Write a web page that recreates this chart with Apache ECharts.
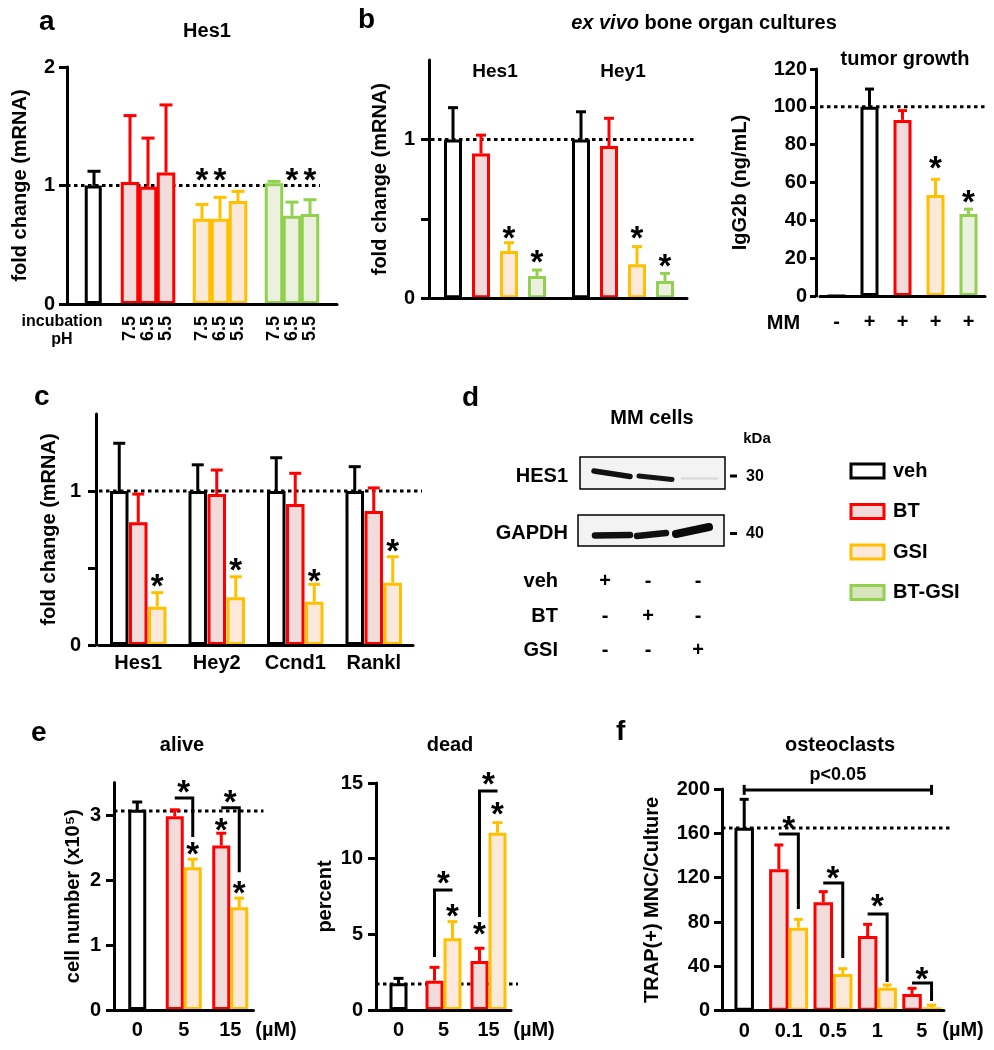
<!DOCTYPE html>
<html><head><meta charset="utf-8">
<script src="https://cdn.jsdelivr.net/npm/echarts@6/dist/echarts.min.js"></script>
<style>html,body{margin:0;padding:0;background:#fff}#c{width:994px;height:1050px}</style>
</head><body><div id="c"></div>
<script>
// ================= DATA =================
// a: Hes1 mRNA at different incubation pH
const aPH = ['7.5', '6.5', '5.5'];
const aVeh = [1.00], aVehErr = [1.12];
const aBT = [1.03, 0.99, 1.11], aBTErr = [1.59, 1.40, 1.68];
const aGSI = [0.72, 0.72, 0.87], aGSIErr = [0.84, 0.90, 0.95];
const aBTGSI = [1.02, 0.745, 0.76], aBTGSIErr = [1.035, 0.86, 0.88];
const aStarLevel = 1.09;
const aStarOn = {'GSI': ['7.5', '6.5'], 'BT-GSI': ['6.5', '5.5']};
const aRef = 1;

// b: ex vivo bone organ cultures
const bGenes = ['Hes1', 'Hey1'];
const bVeh = [1.00, 1.00], bVehErr = [1.20, 1.174];
const bBT = [0.912, 0.958], bBTErr = [1.027, 1.133];
const bGSI = [0.297, 0.214], bGSIErr = [0.35, 0.325];
const bBTGSI = [0.14, 0.109], bBTGSIErr = [0.178, 0.157];
const bStarGSI = [0.413, 0.413], bStarBTGSI = [0.266, 0.241];
const bRef = 1;

// b: tumor growth
const tCats = ['noMM', 'veh', 'BT', 'GSI', 'BT-GSI'];
const tMM = ['-', '+', '+', '+', '+'];
const tGroup = ['veh', 'veh', 'BT', 'GSI', 'BT-GSI'];
const tMean = [0, 100, 93.1, 53.4, 43.4];
const tErr = [null, 109.4, 98.0, 61.7, 45.9];
const tStars = [null, null, null, 70.4, 52.4];
const tRef = 100;

// c: MM cells mRNA
const cGenes = ['Hes1', 'Hey2', 'Ccnd1', 'Rankl'];
const cVeh = [1, 1, 1, 1], cVehErr = [1.31, 1.17, 1.216, 1.158];
const cBT = [0.797, 0.98, 0.916, 0.87], cBTErr = [0.98, 1.136, 1.115, 1.02];
const cGSI = [0.249, 0.31, 0.281, 0.405], cGSIErr = [0.34, 0.443, 0.394, 0.573];
const cStarGSI = [0.422, 0.526, 0.455, 0.649];
const cRef = 1;

// d: western blot
const blotProteins = ['HES1', 'GAPDH'];
const blotKDa = ['30', '40'];
const blotRowNames = ['veh', 'BT', 'GSI'];
const blotRows = [['+', '-', '-'], ['-', '+', '-'], ['-', '-', '+']];

// e: alive / dead
const eDose = ['0', '5', '15'];
const aliveVeh = [3.08, '-', '-'], aliveVehErr = [3.20, null, null];
const aliveBT = ['-', 2.98, 2.53], aliveBTErr = [null, 3.08, 2.72];
const aliveGSI = ['-', 2.195, 1.58], aliveGSIErr = [null, 2.32, 1.72];
const aliveRef = 3.06;
const aliveBrackets = [[1, -0.5, 0.5, 3.26, 3.26, 2.66], [2, -0.5, 0.5, 3.11, 3.11, 2.12]];
const aliveStars = [[1, 0, 3.435], [1, 0.5, 2.49], [2, 0, 3.29], [2, -0.5, 2.86], [2, 0.5, 1.88]];

const deadVeh = [1.76, '-', '-'], deadVehErr = [2.09, null, null];
const deadBT = ['-', 1.94, 3.24], deadBTErr = [null, 2.82, 4.08];
const deadGSI = ['-', 4.74, 11.72], deadGSIErr = [null, 5.84, 12.38];
const deadRef = 1.72;
const deadBrackets = [[1, -0.5, 0.5, 7.93, 3.5, 7.93], [2, -0.5, 0.5, 14.47, 6.15, 14.47]];
const deadStars = [[1, 0, 8.79], [1, 0.5, 6.61], [2, 0, 15.33], [2, 0.5, 13.35], [2, -0.5, 5.42]];

// f: osteoclasts
const fDose = ['0', '0.1', '0.5', '1', '5'];
const fVeh = [165, '-', '-', '-', '-'], fVehErr = [190.7, null, null, null, null];
const fBT = ['-', 127.6, 97.8, 67.4, 15.0], fBTErr = [null, 149.5, 107.4, 77.9, 20.2];
const fGSI = ['-', 74.9, 33.1, 20.8, 3.0], fGSIErr = [null, 82.4, 37.9, 23.2, 5.0];
const fRef = 164.8;
const fBrackets = [[1, -0.5, 0.5, 159.5, 159.5, 91.8], [2, -0.5, 0.5, 115.3, 115.3, 47.5], [3, -0.5, 0.5, 87.2, 87.2, 25.9], [4, -0.5, 0.5, 25.0, 25.0, 8.8]];
const fStars = [[1, 0, 170.3], [2, 0, 125.1], [3, 0, 99.9], [4, 0, 34.0]];
const fPBracket = [[0, 0, 4, 0.5, 199.2]];
const fPLabel = 'p<0.05';

// ================= STYLE / HELPERS =================
const FONT = '"Liberation Sans", Arial, Helvetica, sans-serif';
const LW = 3;
const COL = {
  'veh': {stroke: '#000000', fill: '#ffffff'},
  'BT': {stroke: '#ff0000', fill: '#f2dcdb'},
  'GSI': {stroke: '#ffc000', fill: '#fde9d9'},
  'BT-GSI': {stroke: '#92d050', fill: '#ebf1de'}
};
const STAR_FS = 33, STAR_DY = 7.5;
const T = (s, extra) => Object.assign({fontFamily: FONT, fontWeight: 'bold', fontSize: s, color: '#000'}, extra || {});

const grids = [], xAxes = [], yAxes = [], series = [], graphics = [];

function addGrid(g) { grids.push(Object.assign({containLabel: false, outerBoundsMode: 'none'}, g)); return grids.length - 1; }

function addX(gi, o) {
  xAxes.push({
    gridIndex: gi, type: 'category', data: o.data, show: o.show !== false, position: o.position || 'bottom', z: 5,
    axisLine: {show: o.line !== false, onZero: false, lineStyle: {color: '#000', width: LW}},
    axisTick: {show: false},
    axisLabel: Object.assign({show: o.labels !== false, interval: 0, margin: o.margin || 10, rotate: o.rotate || 0,
      inside: !!o.inside, formatter: o.formatter || (v => v)}, T(o.fontSize || 20)),
    splitLine: {show: false}
  });
  return xAxes.length - 1;
}

function addY(gi, o) {
  const labels = o.labels;
  yAxes.push({
    gridIndex: gi, type: 'value', min: o.min, max: o.max, interval: o.interval, offset: o.offset || 0, z: 5,
    axisLine: {show: true, onZero: false, lineStyle: {color: '#000', width: LW}},
    axisTick: {show: true, inside: false, length: o.tickLen || 8, lineStyle: {color: '#000', width: LW}, customValues: o.ticks},
    axisLabel: Object.assign({show: true, margin: o.margin || 12, customValues: labels,
      formatter: v => labels.some(l => Math.abs(l - v) < 1e-9) ? String(v) : ''}, T(o.fontSize || 20)),
    splitLine: {show: false},
    name: o.name, nameLocation: 'middle', nameGap: o.nameGap, nameTextStyle: T(o.nameSize || 20)
  });
  return yAxes.length - 1;
}

function addBar(xi, yi, name, data, barWidth, barGap) {
  series.push({type: 'bar', name, xAxisIndex: xi, yAxisIndex: yi, data, barWidth, barGap, z: 2, silent: true,
    emphasis: {disabled: true},
    itemStyle: {color: COL[name].fill, borderColor: COL[name].stroke, borderWidth: LW}});
}

function addErr(xi, yi, name, pts, offset, cap) {
  const stroke = COL[name].stroke;
  series.push({type: 'custom', xAxisIndex: xi, yAxisIndex: yi, data: pts, z: 3, silent: true, clip: false,
    encode: {x: 0, y: [1, 2]},
    renderItem: (params, api) => {
      const a = api.coord([api.value(0), api.value(1)]);
      const b = api.coord([api.value(0), api.value(2)]);
      const x = a[0] + offset;
      return {type: 'group', children: [
        {type: 'line', shape: {x1: x, y1: a[1], x2: x, y2: b[1]}, style: {stroke, lineWidth: LW}},
        {type: 'line', shape: {x1: x - cap / 2, y1: b[1], x2: x + cap / 2, y2: b[1]}, style: {stroke, lineWidth: LW}}
      ]};
    }});
}

function addRef(xi, yi, value, ext) {
  series.push({type: 'custom', xAxisIndex: xi, yAxisIndex: yi, data: [[0, value]], z: 1, silent: true, clip: false,
    encode: {x: 0, y: 1},
    renderItem: (params, api) => {
      const cs = params.coordSys;
      const y = api.coord([0, api.value(1)])[1];
      return {type: 'line', shape: {x1: cs.x, y1: y, x2: cs.x + cs.width + ext, y2: y},
        style: {stroke: '#000', lineWidth: LW, lineDash: [3.5, 3.5]}};
    }});
}

function addStars(xi, yi, pts, step) {
  series.push({type: 'custom', xAxisIndex: xi, yAxisIndex: yi, data: pts, z: 4, silent: true, clip: false,
    encode: {x: 0, y: 2},
    renderItem: (params, api) => {
      const p = api.coord([api.value(0), api.value(2)]);
      return {type: 'text', style: {text: '*', x: p[0] + api.value(1) * step, y: p[1] + STAR_DY,
        align: 'center', verticalAlign: 'middle', fontSize: STAR_FS, fontWeight: 'bold', fontFamily: FONT, fill: '#000'}};
    }});
}

function addBrackets(xi, yi, pts, step) {
  series.push({type: 'custom', xAxisIndex: xi, yAxisIndex: yi, data: pts, z: 4, silent: true, clip: false,
    encode: {x: 0, y: 3},
    renderItem: (params, api) => {
      const c = api.value(0);
      const top = api.coord([c, api.value(3)]);
      const yl = api.coord([c, api.value(4)])[1], yr = api.coord([c, api.value(5)])[1];
      const xl = top[0] + api.value(1) * step, xr = top[0] + api.value(2) * step;
      return {type: 'polyline', shape: {points: [[xl, yl], [xl, top[1]], [xr, top[1]], [xr, yr]]},
        style: {stroke: '#000', lineWidth: LW, fill: null, lineJoin: 'miter'}};
    }});
}

function gText(text, x, y, size, align, extra) {
  graphics.push({type: 'text', x, y, silent: true, z: 10,
    style: Object.assign({text, fontFamily: FONT, fontWeight: 'bold', fontSize: size, fill: '#000',
      align: align || 'center', verticalAlign: 'middle'}, extra || {})});
}

// grouped panel builder: groups = [[name, values(aligned to cats), errs]]
// bar borders are drawn inside the bar, so barWidth is the outer width
function groupedPanel(xiMain, yi, groups, barWidth, gapPx, cap, xiVeh) {
  const inGroup = groups.filter(g => !(xiVeh !== undefined && g[0] === 'veh'));
  const n = inGroup.length, step = barWidth + gapPx;
  groups.forEach(([name, vals, errs]) => {
    const separate = xiVeh !== undefined && name === 'veh';
    const xi = separate ? xiVeh : xiMain;
    const slot = separate ? 0 : inGroup.findIndex(g => g[0] === name) - (n - 1) / 2;
    addBar(xi, yi, name, vals, barWidth, (gapPx / barWidth * 100) + '%');
    const pts = [];
    vals.forEach((v, i) => { if (v !== '-' && errs[i] != null) pts.push([i, v, errs[i]]); });
    addErr(xi, yi, name, pts, slot * step, cap);
  });
  return step;
}

// ================= PANEL a =================
const aCats = ['pad0', 'veh', 'gap1'].concat(aPH.map(p => 'BT ' + p), ['gap2'], aPH.map(p => 'GSI ' + p), ['gap3'],
  aPH.map(p => 'BT-GSI ' + p), ['pad4']);
const aGroupOf = c => c === 'veh' ? 'veh' : (c.indexOf(' ') > 0 ? c.slice(0, c.indexOf(' ')) : null);
const aPhOf = c => c.indexOf(' ') > 0 ? c.slice(c.indexOf(' ') + 1) : '';
const gA = addGrid({left: 67, top: 67, width: 270, height: 237});
const xA = addX(gA, {data: aCats, rotate: 90, fontSize: 18, margin: 12, formatter: v => aPhOf(v)});
const yA = addY(gA, {min: 0, max: 2, interval: 1, ticks: [0, 1, 2], labels: [0, 1, 2], name: 'fold change (mRNA)', nameGap: 37, margin: 12});
addRef(xA, yA, aRef, -17);
[['veh', aVeh, aVehErr], ['BT', aBT, aBTErr], ['GSI', aGSI, aGSIErr], ['BT-GSI', aBTGSI, aBTGSIErr]].forEach(([g, v, e]) => {
  const pick = (arr, c) => aGroupOf(c) !== g ? '-' : (g === 'veh' ? arr[0] : arr[aPH.indexOf(aPhOf(c))]);
  addBar(xA, yA, g, aCats.map(c => pick(v, c)), g === 'veh' ? 17 : 18.5, '-100%');
  const pts = [];
  aCats.forEach((c, i) => { if (aGroupOf(c) === g) pts.push([i, pick(v, c), pick(e, c)]); });
  addErr(xA, yA, g, pts, 0, 13);
});
const aStarPts = [];
Object.keys(aStarOn).forEach(g => aStarOn[g].forEach(p => aStarPts.push([aCats.indexOf(g + ' ' + p), 0, aStarLevel])));
addStars(xA, yA, aStarPts, 0);
gText('Hes1', 207, 31, 20);
gText('incubation', 62, 321.5, 16);
gText('pH', 62, 340, 16);

// ================= PANEL b (left) =================
const gB = addGrid({left: 431, top: 60, width: 256, height: 238.3});
const xB = addX(gB, {data: bGenes, labels: false});
addX(gB, {data: bGenes, position: 'top', line: false, inside: true, margin: 2, fontSize: 19});
const yB = addY(gB, {min: 0, max: 1.5, interval: 0.5, ticks: [0, 0.5, 1], labels: [0, 1], name: 'fold change (mRNA)', nameGap: 39, margin: 14, offset: 2});
addRef(xB, yB, bRef, 8);
const stepB = groupedPanel(xB, yB, [['veh', bVeh, bVehErr], ['BT', bBT, bBTErr], ['GSI', bGSI, bGSIErr], ['BT-GSI', bBTGSI, bBTGSIErr]], 18, 10, 10);
addStars(xB, yB, bStarGSI.map((v, i) => [i, 0.5, v]).concat(bStarBTGSI.map((v, i) => [i, 1.5, v])), stepB);
gText('{i|ex vivo} bone organ cultures', 704, 23, 20, 'center',
  {rich: {i: {fontStyle: 'italic', fontWeight: 'bold', fontSize: 20, fontFamily: FONT, fill: '#000'}}});

// ================= PANEL b (tumor growth) =================
const gT = addGrid({left: 820, top: 69, width: 165, height: 227});
const xT = addX(gT, {data: tCats, margin: 16, formatter: (v, i) => tMM[i]});
const yT = addY(gT, {min: 0, max: 120, interval: 20, ticks: [0, 20, 40, 60, 80, 100, 120], labels: [0, 20, 40, 60, 80, 100, 120],
  name: 'IgG2b (ng/mL)', nameGap: 66, margin: 9, offset: 4, tickLen: 6});
addRef(xT, yT, tRef, 0);
['veh', 'BT', 'GSI', 'BT-GSI'].forEach(g => {
  addBar(xT, yT, g, tGroup.map((gg, i) => gg === g ? tMean[i] : '-'), 18, '-100%');
  const pts = [];
  tGroup.forEach((gg, i) => { if (gg === g && tErr[i] != null) pts.push([i, tMean[i], tErr[i]]); });
  addErr(xT, yT, g, pts, 0, 9);
});
const tStarPts = [];
tStars.forEach((v, i) => { if (v != null) tStarPts.push([i, 0, v]); });
addStars(xT, yT, tStarPts, 0);
gText('tumor growth', 905, 59.5, 20);
gText('MM', 783.5, 323.5, 20);

// ================= PANEL c =================
const gC = addGrid({left: 99, top: 414, width: 314, height: 231});
const xC = addX(gC, {data: cGenes, margin: 8.5});
const yC = addY(gC, {min: 0, max: 1.5, interval: 0.5, ticks: [0, 0.5, 1], labels: [0, 1], name: 'fold change (mRNA)', nameGap: 37, margin: 15, offset: 3});
addRef(xC, yC, cRef, 9);
const stepC = groupedPanel(xC, yC, [['veh', cVeh, cVehErr], ['BT', cBT, cBTErr], ['GSI', cGSI, cGSIErr]], 18.5, 0.5, 12);
addStars(xC, yC, cStarGSI.map((v, i) => [i, 1, v]), stepC);

// ================= PANEL d (western blot, drawn) =================
gText('MM cells', 652, 418.5, 20);
gText('kDa', 757, 439, 15);
const blotBoxes = [{x: 580, y: 457, w: 145, h: 32}, {x: 578, y: 515, w: 146, h: 31}];
blotBoxes.forEach((b, i) => {
  graphics.push({type: 'rect', silent: true, shape: {x: b.x, y: b.y, width: b.w, height: b.h},
    style: {fill: '#f3f3f3', stroke: '#000', lineWidth: 1.5}});
  gText(blotProteins[i], 568, b.y + b.h / 2 + 3, 20, 'right');
  graphics.push({type: 'rect', silent: true, shape: {x: 730, y: b.y + b.h / 2 + 1.5, width: 7, height: 3}, style: {fill: '#000'}});
  gText(blotKDa[i], 746, b.y + b.h / 2 + 3.5, 16, 'left');
});
const bandShapes = [
  [594, 471, 630, 476.5, 5.5, '#111'], [639, 476, 672, 479.5, 5, '#151515'], [682, 478.5, 717, 478.5, 2.5, '#dcdcdc'],
  [595, 535.5, 630, 535, 6.5, '#111'], [637, 536, 666, 533, 6.5, '#111'], [676, 534, 709, 527, 8, '#0a0a0a']
];
bandShapes.forEach(s => graphics.push({type: 'line', silent: true, shape: {x1: s[0], y1: s[1], x2: s[2], y2: s[3]},
  style: {stroke: s[5], lineWidth: s[4], lineCap: 'round'}}));
const laneX = [605, 648, 698], rowY = [581, 616, 650];
blotRowNames.forEach((r, ri) => {
  gText(r, 558, rowY[ri], 20, 'right');
  blotRows[ri].forEach((s, li) => gText(s, laneX[li], rowY[ri], 20));
});

// ================= PANEL e (alive) =================
const gE1 = addGrid({left: 114, top: 782.5, width: 139.5, height: 227.5});
const xE1 = addX(gE1, {data: eDose, margin: 10.5});
const xE1v = addX(gE1, {data: eDose, show: false});
const yE1 = addY(gE1, {min: 0, max: 3.5, interval: 1, ticks: [0, 1, 2, 3], labels: [0, 1, 2, 3], name: 'cell number (x10\u2075)', nameGap: 31, margin: 13});
addRef(xE1, yE1, aliveRef, 10);
const stepE = groupedPanel(xE1, yE1, [['veh', aliveVeh, aliveVehErr], ['BT', aliveBT, aliveBTErr], ['GSI', aliveGSI, aliveGSIErr]], 18, 0, 10, xE1v);
addBrackets(xE1, yE1, aliveBrackets, stepE);
addStars(xE1, yE1, aliveStars, stepE);
gText('alive', 182, 745, 20);
gText('(\u00b5M)', 276, 1030.5, 20);

// ================= PANEL e (dead) =================
const gE2 = addGrid({left: 376, top: 783, width: 135, height: 227});
const xE2 = addX(gE2, {data: eDose, margin: 10.5});
const xE2v = addX(gE2, {data: eDose, show: false});
const yE2 = addY(gE2, {min: 0, max: 15, interval: 5, ticks: [0, 5, 10, 15], labels: [0, 5, 10, 15], name: 'percent', nameGap: 41, margin: 13});
addRef(xE2, yE2, deadRef, 7);
const stepD = groupedPanel(xE2, yE2, [['veh', deadVeh, deadVehErr], ['BT', deadBT, deadBTErr], ['GSI', deadGSI, deadGSIErr]], 18, 0, 10, xE2v);
addBrackets(xE2, yE2, deadBrackets, stepD);
addStars(xE2, yE2, deadStars, stepD);
gText('dead', 450, 745, 20);
gText('(\u00b5M)', 534, 1030.5, 20);

// ================= PANEL f =================
const gF = addGrid({left: 722, top: 789, width: 222, height: 221.7});
const xF = addX(gF, {data: fDose, margin: 10.5});
const xFv = addX(gF, {data: fDose, show: false});
const yF = addY(gF, {min: 0, max: 200, interval: 40, ticks: [0, 40, 80, 120, 160, 200], labels: [0, 40, 80, 120, 160, 200],
  name: 'TRAP(+) MNC/Culture', nameGap: 60, margin: 12});
addRef(xF, yF, fRef, 8);
const stepF = groupedPanel(xF, yF, [['veh', fVeh, fVehErr], ['BT', fBT, fBTErr], ['GSI', fGSI, fGSIErr]], 19.5, 0, 9, xFv);
addBrackets(xF, yF, fBrackets, stepF);
addStars(xF, yF, fStars, stepF);
series.push({type: 'custom', xAxisIndex: xF, yAxisIndex: yF, data: fPBracket, z: 4, silent: true, clip: false,
  encode: {x: 0, y: 4},
  renderItem: (params, api) => {
    const l = api.coord([api.value(0), api.value(4)]), r = api.coord([api.value(2), api.value(4)]);
    const xl = l[0] + api.value(1) * stepF, xr = r[0] + api.value(3) * stepF, y = l[1];
    const st = {stroke: '#000', lineWidth: LW};
    return {type: 'group', children: [
      {type: 'line', shape: {x1: xl, y1: y, x2: xr, y2: y}, style: st},
      {type: 'line', shape: {x1: xl, y1: y - 5, x2: xl, y2: y + 5}, style: st},
      {type: 'line', shape: {x1: xr, y1: y - 5, x2: xr, y2: y + 5}, style: st},
      {type: 'text', style: {text: fPLabel, x: (xl + xr) / 2, y: y - 15, align: 'center', verticalAlign: 'middle',
        fontSize: 18, fontWeight: 'bold', fontFamily: FONT, fill: '#000'}}
    ]};
  }});
gText('osteoclasts', 840, 745, 20);
gText('(\u00b5M)', 963, 1030.5, 20);

// ================= panel letters =================
[['a', 39, 22], ['b', 358, 20], ['c', 34, 397], ['d', 462, 398], ['e', 31, 733], ['f', 616, 732]].forEach(l =>
  gText(l[0], l[1], l[2], 28, 'left'));

// ================= CHART =================
const chart = echarts.init(document.getElementById('c'), null, {renderer: 'canvas', width: 994, height: 1050});
chart.setOption({
  animation: false,
  backgroundColor: '#ffffff',
  textStyle: {fontFamily: FONT},
  grid: grids, xAxis: xAxes, yAxis: yAxes, series,
  legend: {
    orient: 'vertical', left: 849.5, top: 461, itemWidth: 33, itemHeight: 14, itemGap: 20.5, padding: 0,
    selectedMode: false, icon: 'rect',
    itemStyle: {borderWidth: 3},
    textStyle: T(20, {padding: [0, 0, 0, 4]}),
    data: [{name: 'veh'}, {name: 'BT'}, {name: 'GSI'}, {name: 'BT-GSI', itemStyle: {color: '#d8e4bc'}}]
  },
  graphic: {elements: graphics}
});
</script></body></html>
